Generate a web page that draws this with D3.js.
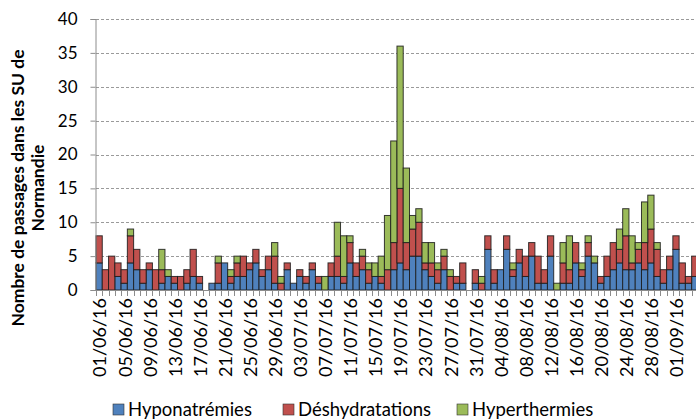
<!DOCTYPE html>
<html><head><meta charset="utf-8">
<script src="https://cdn.jsdelivr.net/npm/d3@7"></script>
<style>body{margin:0;background:#fff}svg{display:block;font-family:Lato,"Open Sans",sans-serif}</style>
</head><body><svg id="c" width="696" height="419"></svg>
<script>
// Dates 01/06/16 .. 04/09/16
const dates = [];
(function(){const d=new Date(2016,5,1);for(let i=0;i<96;i++){const t=new Date(d);t.setDate(d.getDate()+i);dates.push(t);}})();
const fmt = d3.timeFormat("%d/%m/%y");
const categories = dates.map(fmt);
const hyponatremies = [4,0,0,2,1,4,3,1,3,0,1,2,1,0,1,2,1,0,1,1,4,1,2,2,3,4,2,3,1,0,
 3,1,2,1,3,1,0,2,2,1,4,2,3,1,2,1,0,3,4,3,5,5,3,2,1,3,0,1,1,0,
 1,0,6,1,3,6,2,4,2,5,1,1,5,0,1,1,4,2,5,4,1,2,3,4,3,3,4,3,4,2,
 1,3,6,1,1,2];
const deshydratations = [4,3,5,2,2,4,3,2,1,3,2,0,1,2,2,4,1,0,0,3,0,1,2,3,1,2,1,2,4,1,
 1,0,1,1,1,1,0,2,3,1,3,2,2,2,0,1,3,4,11,4,4,5,1,2,2,2,2,1,3,0,
 2,1,2,2,0,2,1,2,3,2,4,2,3,0,3,2,3,1,2,0,1,3,4,2,5,1,2,4,5,4,
 2,2,2,3,1,3];
const hyperthermies = [0,0,0,0,0,1,0,0,0,0,3,1,0,0,0,0,0,0,0,1,0,1,1,0,0,0,0,0,2,1,
 0,0,0,0,0,0,2,0,5,6,1,0,1,1,2,3,8,15,21,11,2,2,3,3,1,1,1,0,0,0,
 0,1,0,0,0,0,1,0,0,0,0,0,0,1,3,5,0,1,1,1,0,0,0,3,4,4,1,6,5,1,
 0,0,0,0,0,0];
const seriesNames = ["Hyponatrémies","Déshydratations","Hyperthermies"];
const colors = ["#4F81BD","#C0504D","#9BBB59"];
const yTicks = [0,5,10,15,20,25,30,35,40];
const yTitle = ["Nombre de passages dans les SU de","Normandie"];

const rows = categories.map((c,i)=>({cat:c,"Hyponatrémies":hyponatremies[i],"Déshydratations":deshydratations[i],"Hyperthermies":hyperthermies[i]}));
const stack = d3.stack().keys(seriesNames)(rows);

const svg = d3.select("#c");
const x = d3.scaleBand().domain(categories).range([96, 96+96*6.27]).padding(0);
const y = d3.scaleLinear().domain([0,40]).range([290,19]);

// gridlines
svg.append("g").selectAll("line").data(yTicks.filter(t=>t>0)).join("line")
 .attr("x1",96).attr("x2",696).attr("y1",d=>Math.round(y(d))+0.5).attr("y2",d=>Math.round(y(d))+0.5)
 .attr("stroke","#9a9a9a").attr("stroke-dasharray","3,2").attr("stroke-width",1);

// bars
const g = svg.append("g");
stack.forEach((s,k)=>{
 g.append("g").attr("fill",colors[k]).selectAll("rect").data(s.filter(d=>d[1]-d[0]>0)).join("rect")
  .attr("x",d=>x(d.data.cat)).attr("width",x.bandwidth())
  .attr("y",d=>y(d[1])).attr("height",d=>y(d[0])-y(d[1]))
  .attr("stroke","#1a1a1a").attr("stroke-width",1).attr("stroke-opacity",0.85);
});

// y axis
const ya = svg.append("g").attr("transform","translate(95.5,0)")
 .call(d3.axisLeft(y).tickValues(yTicks).tickSize(5).tickPadding(13));
ya.select(".domain").attr("stroke","#8c8c8c");
ya.selectAll(".tick line").attr("stroke","#8c8c8c");
ya.selectAll("text").attr("font-size",17).attr("fill","#000").attr("font-family","Lato,'Open Sans',sans-serif");

// x axis
const xa = svg.append("g");
xa.append("line").attr("x1",95).attr("x2",696).attr("y1",290.5).attr("y2",290.5).attr("stroke","#8c8c8c");
xa.selectAll("line.t").data(categories.concat(["end"])).join("line").attr("class","t")
 .attr("x1",(d,i)=>Math.round(96+i*x.bandwidth())+0.5).attr("x2",(d,i)=>Math.round(96+i*x.bandwidth())+0.5)
 .attr("y1",290).attr("y2",296).attr("stroke","#8c8c8c");
xa.selectAll("text").data(categories.filter((d,i)=>i%4===0)).join("text")
 .attr("transform",d=>`translate(${x(d)+x.bandwidth()/2+1},298) rotate(-90)`)
 .attr("text-anchor","end").attr("dy","0.35em").attr("font-size",18).text(d=>d);

// y title
const yt = svg.append("text").attr("transform","translate(0,188) rotate(-90)").attr("text-anchor","middle")
 .attr("font-weight","bold").attr("font-size",17.5);
yTitle.forEach((t,i)=>yt.append("tspan").attr("x",0).attr("y",24+i*20).text(t));

// legend
const lg = svg.append("g");
const lx = [113,283,457];
seriesNames.forEach((n,i)=>{
 lg.append("rect").attr("x",lx[i]).attr("y",404).attr("width",11).attr("height",11).attr("fill",colors[i]).attr("stroke","#333").attr("stroke-width",0.6);
 lg.append("text").attr("x",lx[i]+15).attr("y",416).attr("font-size",18.5).text(n);
});
</script></body></html>
